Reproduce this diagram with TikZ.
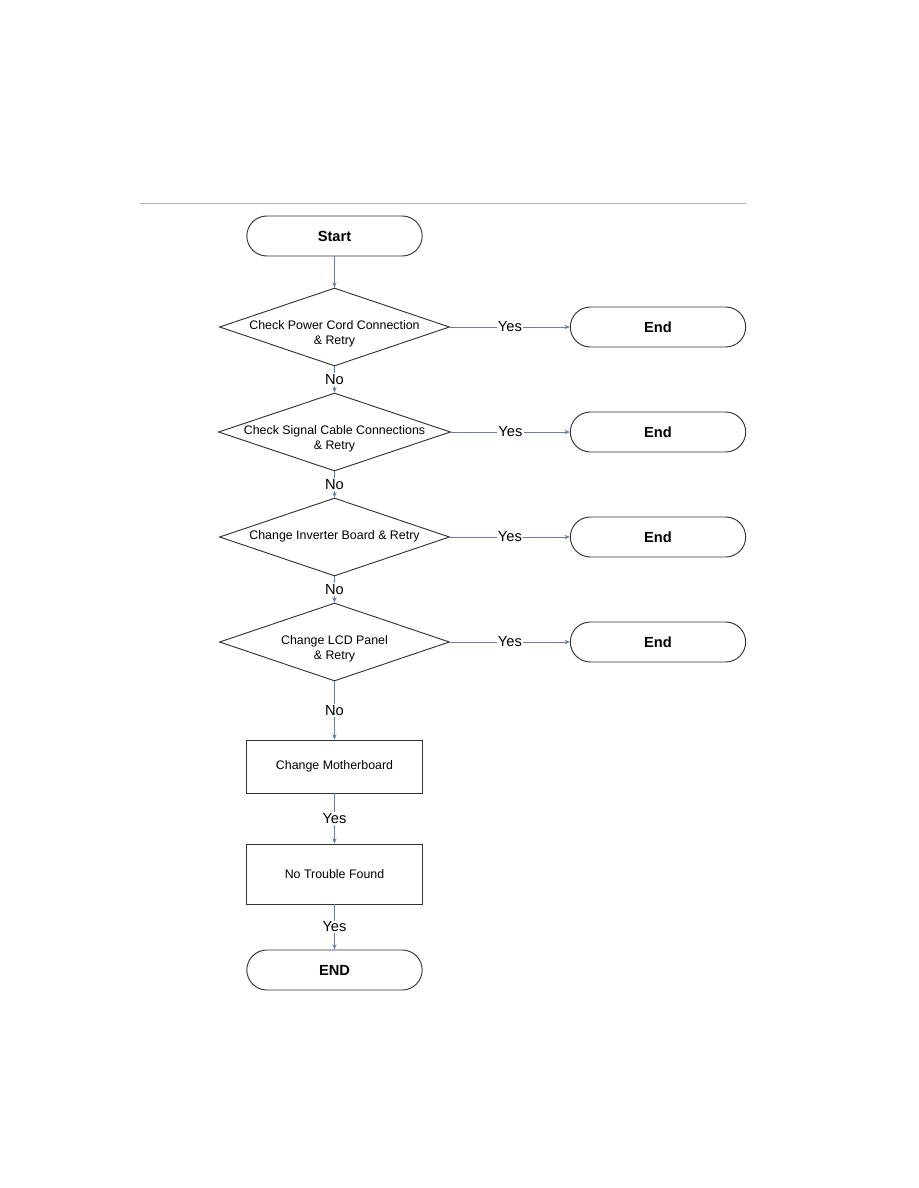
\documentclass[tikz,border=0pt]{standalone}
\usepackage{fontspec}
\setmainfont{Liberation Sans}
\usetikzlibrary{shapes.geometric,arrows.meta}
\definecolor{conn}{HTML}{6A7EA6}
\definecolor{edge}{HTML}{333333}
\definecolor{rule}{HTML}{B4B4B4}
\begin{document}
\begin{tikzpicture}[x=0.75pt,y=-0.75pt,
  term/.style={draw=edge,line width=0.7pt,rectangle,rounded corners=15pt,minimum width=131.5pt,minimum height=30pt,inner sep=0pt,font=\fontsize{11pt}{13pt}\selectfont\bfseries},
  dia/.style={draw=edge,line width=0.7pt,diamond,minimum width=172.5pt,minimum height=58.5pt,inner sep=0pt},
  diatext/.style={align=center,inner sep=0pt,font=\fontsize{9.3pt}{11.3pt}\selectfont},
  procbox/.style={draw=edge,line width=0.7pt,rectangle,minimum width=131.5pt,inner sep=0pt,font=\fontsize{9.3pt}{11pt}\selectfont},
  arr/.style={draw=conn,line width=0.55pt,-{Stealth[length=4pt,width=3.2pt]}},
  lbl/.style={fill=white,inner sep=1pt,font=\fontsize{11pt}{13pt}\selectfont}
]
\useasboundingbox (0,0) rectangle (918,1188);
\draw[rule,line width=0.7pt] (140,203) coordinate (r1) -- (746,203) coordinate (r2);

\node[term] (start) at (334.5,236) {Start};

\node[dia] (d1) at (334.5,327) {};
\node[diatext] (t1) at (334.5,334) {Check Power Cord Connection\\\& Retry};
\node[term] (e1) at (658,327) {End};

\node[dia,minimum width=174pt] (d2) at (334.5,432) {};
\node[diatext] (t2) at (334.5,439) {Check Signal Cable Connections\\\& Retry};
\node[term] (e2) at (658,432) {End};

\node[dia] (d3) at (334.5,537) {};
\node[diatext] (t3) at (334.5,536) {Change Inverter Board \& Retry};
\node[term] (e3) at (658,537) {End};

\node[dia] (d4) at (334.5,642) {};
\node[diatext] (t4) at (334.5,649) {Change LCD Panel\\\& Retry};
\node[term] (e4) at (658,642) {End};

\node[procbox,minimum height=39.75pt] (b1) at (334.5,766.5) {Change Motherboard};
\node[procbox,minimum height=45pt] (b2) at (334.5,874) {No Trouble Found};
\node[term] (fin) at (334.5,970) {END};

\draw[arr] (start) -- (d1.north);
\draw[arr] (d1.east) -- node[lbl] (y1) {Yes} (e1.west);
\draw[arr] (d2.east) -- node[lbl] (y2) {Yes} (e2.west);
\draw[arr] (d3.east) -- node[lbl] (y3) {Yes} (e3.west);
\draw[arr] (d4.east) -- node[lbl] (y4) {Yes} (e4.west);
\draw[arr] (d1.south) -- node[lbl] (n1) {No} (d2.north);
\draw[arr] (d2.south) -- node[lbl] (n2) {No} (d3.north);
\draw[arr] (d3.south) -- node[lbl] (n3) {No} (d4.north);
\draw[arr] (d4.south) -- node[lbl] (n4) {No} (b1.north);
\draw[arr] (b1.south) -- node[lbl] (y5) {Yes} (b2.north);
\draw[arr] (b2.south) -- node[lbl] (y6) {Yes} (fin.north);
\end{tikzpicture}
\end{document}
